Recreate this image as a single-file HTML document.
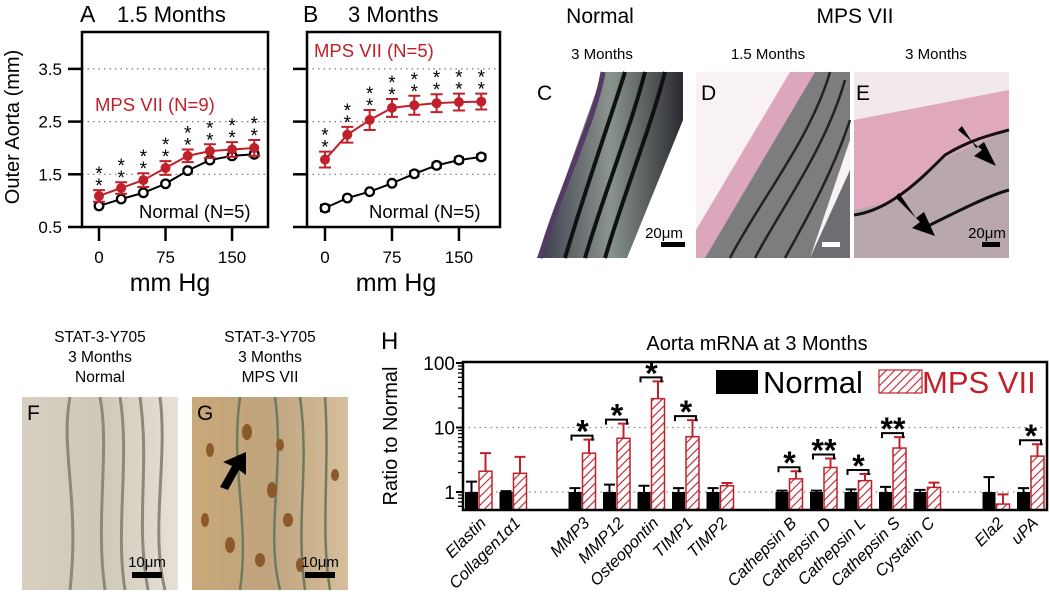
<!DOCTYPE html>
<html><head><meta charset="utf-8">
<style>
html,body{margin:0;padding:0;background:#fff;}
body{width:1050px;height:599px;overflow:hidden;font-family:"Liberation Sans",sans-serif;}
svg{position:absolute;left:0;top:0;}
</style></head>
<body>
<svg id="fig" width="1050" height="599" viewBox="0 0 1050 599" xmlns="http://www.w3.org/2000/svg" font-family="Liberation Sans, sans-serif">
<defs>
<pattern id="hatch" patternUnits="userSpaceOnUse" width="6" height="6" patternTransform="rotate(45)">
<rect width="6" height="6" fill="#fff"/><line x1="0" y1="0" x2="0" y2="6" stroke="#c0202a" stroke-width="2.2"/>
</pattern>
<linearGradient id="gC" x1="0" y1="0" x2="1" y2="0"><stop offset="0" stop-color="#3a3a4a"/><stop offset="0.5" stop-color="#8a948e"/><stop offset="1" stop-color="#2a2a30"/></linearGradient>
<linearGradient id="gF" x1="0" y1="0" x2="1" y2="0"><stop offset="0" stop-color="#d8cfc0"/><stop offset="0.5" stop-color="#cfc8b8"/><stop offset="1" stop-color="#e6e0d8"/></linearGradient>
<linearGradient id="gG" x1="0" y1="0" x2="1" y2="0"><stop offset="0" stop-color="#c9a878"/><stop offset="0.5" stop-color="#bfa47e"/><stop offset="1" stop-color="#d6bf9c"/></linearGradient>
</defs>

<text x="80" y="22" font-size="23">A</text>
<text x="117" y="22" font-size="22">1.5 Months</text>
<text x="303" y="22" font-size="23">B</text>
<text x="348" y="22" font-size="22">3 Months</text>
<text transform="translate(19,127) rotate(-90)" text-anchor="middle" font-size="20">Outer Aorta (mm)</text>
<text x="170" y="291" text-anchor="middle" font-size="25">mm Hg</text>
<text x="396" y="291" text-anchor="middle" font-size="25">mm Hg</text>
<g id="chartA"></g>
<g id="chartB"></g>
<text x="95" y="111" font-size="18.5" fill="#c0202a">MPS VII (N=9)</text>
<text x="139" y="218" font-size="18.5">Normal (N=5)</text>
<text x="314" y="57" font-size="18.5" fill="#c0202a">MPS VII (N=5)</text>
<text x="369" y="218" font-size="18.5">Normal (N=5)</text>

<text x="600" y="23" text-anchor="middle" font-size="21">Normal</text>
<text x="855" y="23" text-anchor="middle" font-size="21">MPS VII</text>
<text x="602" y="59" text-anchor="middle" font-size="15">3 Months</text>
<text x="768" y="59" text-anchor="middle" font-size="15">1.5 Months</text>
<text x="936" y="59" text-anchor="middle" font-size="15">3 Months</text>
<g>
<polygon points="603,72 683,72 683,120 627,258 537,258" fill="url(#gC)"/>
<path d="M603,72 C595,120 560,190 540,258" stroke="#553a66" stroke-width="5" fill="none"/>
<path d="M625,72 C610,120 585,190 565,258 M645,72 C630,130 605,190 585,258 M665,72 C650,130 625,190 605,258" stroke="#111" stroke-width="4" fill="none"/>
<rect x="661" y="242" width="24" height="5" fill="#000"/>
<text x="664" y="238" text-anchor="middle" font-size="15">20μm</text>
<text x="537" y="100" font-size="21">C</text>
</g>
<g>
<rect x="696" y="72" width="154" height="186" fill="#f8f2f4"/>
<polygon points="790,72 850,72 850,120 780,258 696,258 696,230" fill="#dca6bc"/>
<polygon points="815,72 850,72 850,140 810,258 705,258" fill="#7d7d80"/>
<path d="M830,72 C810,140 760,200 730,258 M845,80 C825,150 780,210 755,258 M850,120 C830,180 800,230 785,258" stroke="#222" stroke-width="2.5" fill="none"/>
<polygon points="850,170 850,258 810,258" fill="#6d6d72"/>
<rect x="822" y="242" width="18" height="5" fill="#fff"/>
<text x="701" y="100" font-size="21">D</text>
</g>
<g>
<rect x="854" y="72" width="155" height="186" fill="#f3e8ec"/>
<polygon points="854,120 1009,90 1009,180 940,215 854,230" fill="#e0a8bd"/>
<polygon points="854,210 900,200 940,160 1009,130 1009,258 854,258" fill="#b8a8ab"/>
<path d="M854,215 C890,210 920,180 945,155 C970,140 990,135 1009,130 M920,230 C960,210 990,195 1009,190" stroke="#111" stroke-width="3" fill="none"/>
<polygon points="958,130 982,150 974,156 996,166 984,142 976,148 962,126" fill="#000"/>
<polygon points="895,197 920,222 912,228 935,236 924,212 916,218 899,193" fill="#000"/>
<rect x="982" y="242" width="18" height="5" fill="#000"/>
<text x="987" y="238" text-anchor="middle" font-size="15">20μm</text>
<text x="856" y="100" font-size="21">E</text>
</g>

<g font-size="15.5" text-anchor="middle">
<text x="100" y="342">STAT-3-Y705</text><text x="100" y="362">3 Months</text><text x="100" y="382">Normal</text></g>
<g font-size="15.5" text-anchor="middle">
<text x="270" y="342">STAT-3-Y705</text><text x="270" y="362">3 Months</text><text x="270" y="382">MPS VII</text></g>
<g>
<rect x="22" y="397" width="156" height="193" fill="url(#gF)"/>
<path d="M70,397 C60,450 80,500 70,590 M100,397 C110,450 95,520 105,590 M120,397 C130,460 115,530 125,590 M140,397 C150,470 135,520 148,590 M160,397 C168,460 150,530 165,590" stroke="#8a8a78" stroke-width="3" fill="none"/>
<rect x="132" y="572" width="30" height="6" fill="#000"/>
<text x="147" y="567" text-anchor="middle" font-size="15">10μm</text>
<text x="27" y="420" font-size="21">F</text>
</g>
<g>
<rect x="192" y="397" width="156" height="193" fill="url(#gG)"/>
<path d="M240,397 C230,470 250,520 240,590 M275,397 C285,470 265,530 280,590 M300,397 C310,470 295,520 305,590 M325,397 C330,470 320,530 330,590" stroke="#6f7a60" stroke-width="2.5" fill="none"/>
<g fill="#8a5a2a"><ellipse cx="247" cy="432" rx="5" ry="8"/><ellipse cx="210" cy="450" rx="4" ry="7"/><ellipse cx="272" cy="490" rx="5" ry="8"/><ellipse cx="288" cy="520" rx="5" ry="7"/><ellipse cx="230" cy="545" rx="5" ry="8"/><ellipse cx="260" cy="560" rx="5" ry="7"/><ellipse cx="300" cy="565" rx="4" ry="7"/><ellipse cx="335" cy="475" rx="4" ry="6"/><ellipse cx="205" cy="520" rx="4" ry="7"/><ellipse cx="280" cy="445" rx="4" ry="6"/></g>
<polygon points="246,452 223,462 232,466 220,487 228,490 239,470 246,475" fill="#000"/>
<rect x="305" y="572" width="30" height="6" fill="#000"/>
<text x="320" y="567" text-anchor="middle" font-size="15">10μm</text>
<text x="197" y="420" font-size="21">G</text>
</g>

<text x="381" y="349" font-size="24">H</text>
<text x="757" y="350" text-anchor="middle" font-size="20">Aorta mRNA at 3 Months</text>
<text transform="translate(397,436) rotate(-90)" text-anchor="middle" font-size="20">Ratio to Normal</text>
<g id="chartH"></g>
<g>
<rect x="716" y="370" width="42" height="24" fill="#000"/>
<text x="763" y="393" font-size="31">Normal</text>
<rect x="879" y="370" width="43" height="23" fill="url(#hatch)" stroke="#c0202a" stroke-width="1.2"/>
<text x="922" y="393" font-size="31" fill="#c0202a">MPS VII</text>
</g>
</svg>
<script>
const pressures = [0, 25, 50, 75, 100, 125, 150, 175];
const yTicksAB = [0.5, 1.5, 2.5, 3.5];
const xTicksAB = [0, 75, 150];
const aNormal = [0.90, 1.03, 1.15, 1.32, 1.57, 1.77, 1.85, 1.88];
const aNormalErr = [0.03, 0.03, 0.03, 0.03, 0.03, 0.04, 0.04, 0.04];
const aMps = [1.09, 1.24, 1.39, 1.62, 1.85, 1.94, 1.97, 2.00];
const aMpsErr = [0.11, 0.11, 0.13, 0.13, 0.12, 0.13, 0.14, 0.15];
const bNormal = [0.86, 1.05, 1.17, 1.33, 1.51, 1.67, 1.77, 1.83];
const bNormalErr = [0.06, 0.03, 0.03, 0.03, 0.05, 0.05, 0.05, 0.05];
const bMps = [1.78, 2.25, 2.53, 2.76, 2.81, 2.85, 2.87, 2.88];
const bMpsErr = [0.15, 0.15, 0.19, 0.17, 0.18, 0.17, 0.16, 0.15];

const NS = "http://www.w3.org/2000/svg";
function mk(parent, tag, attrs, text){
  const e = document.createElementNS(NS, tag);
  for (const k in attrs) e.setAttribute(k, attrs[k]);
  if (text !== undefined) e.textContent = text;
  parent.appendChild(e); return e;
}
const RED = "#c0202a";
function yAB(v){ return 227 - (v - 0.5) * 52.7; }

function drawAB(g, x0, slope, boxL, boxR, showLabels, normal, nErr, mps, mErr, tickL){
  const xs = p => x0 + p * slope;
  [1.5, 2.5, 3.5].forEach(v => {
    const l = mk(g, "line", {x1: boxL, x2: boxR, y1: yAB(v), y2: yAB(v), stroke: "#777", "stroke-width": 1.2, "stroke-dasharray": "1.5 4"});
    
    
  });
  const box = mk(g, "rect", {x: boxL, y: 32, width: boxR - boxL, height: 195, fill: "none", stroke: "#000", "stroke-width": 2.5});
  
  
  yTicksAB.forEach(v => {
    const t = mk(g, "line", {x1: tickL, x2: boxL, y1: yAB(v), y2: yAB(v), stroke: "#000", "stroke-width": 2.5});
    
    
    if (showLabels) {
      const lb = mk(g, "text", {x: 62, y: yAB(v) + 6, "text-anchor": "end", "font-size": 17}, v.toFixed(1));
      
      
    }
  });
  xTicksAB.forEach(p => {
    const t = mk(g, "line", {x1: xs(p), x2: xs(p), y1: 227, y2: 241, stroke: "#000", "stroke-width": 2.5});
    
    
    const lb = mk(g, "text", {x: xs(p), y: 263, "text-anchor": "middle", "font-size": 17}, String(p));
    
    
  });
  const nl = mk(g, "polyline", {points: pressures.map((p, i) => xs(p) + "," + yAB(normal[i])).join(" "), fill: "none", stroke: "#000", "stroke-width": 2});
  
  
  pressures.forEach((p, i) => {
    const x = xs(p), y = yAB(normal[i]), e = nErr[i] * 52.7;
    const eb = mk(g, "path", {d: `M${x},${y - e}V${y + e}M${x - 5},${y - e}H${x + 5}M${x - 5},${y + e}H${x + 5}`, stroke: "#000", "stroke-width": 2, fill: "none"});
    
    
    const c = mk(g, "circle", {cx: x, cy: y, r: 4.3, fill: "#fff", stroke: "#000", "stroke-width": 2.3});
    
    
  });
  const ml = mk(g, "polyline", {points: pressures.map((p, i) => xs(p) + "," + yAB(mps[i])).join(" "), fill: "none", stroke: RED, "stroke-width": 2});
  
  
  pressures.forEach((p, i) => {
    const x = xs(p), y = yAB(mps[i]), e = mErr[i] * 52.7;
    const eb = mk(g, "path", {d: `M${x},${y - e}V${y + e}M${x - 6},${y - e}H${x + 6}M${x - 6},${y + e}H${x + 6}`, stroke: RED, "stroke-width": 2, fill: "none"});
    
    
    const c = mk(g, "circle", {cx: x, cy: y, r: 5, fill: RED});
    
    
    [0, 1].forEach(k => {
      const cy = y - e - 9 - k * 12;
      const s = mk(g, "text", {x: x, y: cy + 11, "text-anchor": "middle", "font-size": 19}, "*");
      
      
    });
  });
}
drawAB(document.getElementById("chartA"), 99, 0.887, 82, 268, true, aNormal, aNormalErr, aMps, aMpsErr, 68);
drawAB(document.getElementById("chartB"), 325, 0.893, 307, 500, false, bNormal, bNormalErr, bMps, bMpsErr, 293);

const genes = ["Elastin","Collagen1α1","MMP3","MMP12","Osteopontin","TIMP1","TIMP2","Cathepsin B","Cathepsin D","Cathepsin L","Cathepsin S","Cystatin C","Ela2","uPA"];
const geneSlots = [0,1,3,4,5,6,7,9,10,11,12,13,15,16];
const normalVals = [1,1,1,1,1,1,1,1,1,1,1,1,1,1];
const normalErrTop = [1.45,1.03,1.15,1.3,1.25,1.15,1.15,1.05,1.05,1.1,1.2,1.08,1.7,1.15];
const mpsVals = [2.1,1.95,4.0,6.8,28,7.2,1.25,1.6,2.4,1.5,4.8,1.18,0.65,3.6];
const mpsErrTop = [4.0,3.5,6.5,11.5,52,13,1.38,2.1,3.3,1.9,7.1,1.4,0.92,5.5];
const stars = ["","","*","*","*","*","","*","**","*","**","","","*"];
const yTicksH = [1, 10, 100];

const gH = document.getElementById("chartH");
const H = {left: 463, right: 1047, top: 362, bottom: 510};
function yH(v){ return 492 - Math.log10(v) * 64.5; }
function xSlot(s){ return 465 + s * 34.5; }
[1, 10].forEach(v => {
  const l = mk(gH, "line", {x1: H.left, x2: H.right, y1: yH(v), y2: yH(v), stroke: "#888", "stroke-width": 1.2, "stroke-dasharray": "1.5 4"});
  
  
});
yTicksH.forEach(v => {
  const lb = mk(gH, "text", {x: H.left - 8, y: yH(v) + 7, "text-anchor": "end", "font-size": 19}, String(v));
  
  
  const t = mk(gH, "line", {x1: H.left - 7, x2: H.left, y1: yH(v), y2: yH(v), stroke: "#000", "stroke-width": 2});
  
  
});
[0.6,0.7,0.8,0.9,2,3,4,5,6,7,8,9,20,30,40,50,60,70,80,90].forEach(v => {
  const t = mk(gH, "line", {x1: H.left - 5, x2: H.left, y1: yH(v), y2: yH(v), stroke: "#000", "stroke-width": 1.3});
  
  
});
genes.forEach((g, i) => {
  const xn = xSlot(geneSlots[i]);
  const xm = xn + 14;
  const nb = mk(gH, "rect", {x: xn, y: yH(normalVals[i]), width: 13, height: H.bottom - yH(normalVals[i]), fill: "#000"});
  
  
  const ne = mk(gH, "path", {d: `M${xn + 6.5},${yH(normalVals[i])}V${yH(normalErrTop[i])}M${xn + 1},${yH(normalErrTop[i])}H${xn + 12}`, stroke: "#000", "stroke-width": 2, fill: "none"});
  
  
  const topM = yH(mpsVals[i]);
  const mb = mk(gH, "rect", {x: xm, y: topM, width: 13, height: H.bottom - topM, fill: "url(#hatch)", stroke: RED, "stroke-width": 1.5});
  
  
  const me = mk(gH, "path", {d: `M${xm + 6.5},${topM}V${yH(mpsErrTop[i])}M${xm + 1},${yH(mpsErrTop[i])}H${xm + 12}`, stroke: RED, "stroke-width": 2, fill: "none"});
  
  
  if (stars[i]) {
    const by = yH(mpsErrTop[i]) - 4;
    const br = mk(gH, "path", {d: `M${xn + 3},${by + 5}V${by}H${xm + 10}V${by + 5}`, stroke: "#000", "stroke-width": 2, fill: "none"});
    
    
    const st = mk(gH, "text", {x: xm, y: by + 7, "text-anchor": "middle", "font-size": 32, "font-weight": "bold"}, stars[i]);
    
    
  }
  const lb = mk(gH, "text", {transform: `translate(${xn + 22},${524}) rotate(-45)`, "text-anchor": "end", "font-size": 16.5, "font-style": "italic"}, g);
  
  
});
const frame = mk(gH, "path", {d: `M${H.left},${H.bottom}V${H.top}H${H.right}V${H.bottom}Z`, fill: "none", stroke: "#000", "stroke-width": 2.5});


</script>
</body></html>
